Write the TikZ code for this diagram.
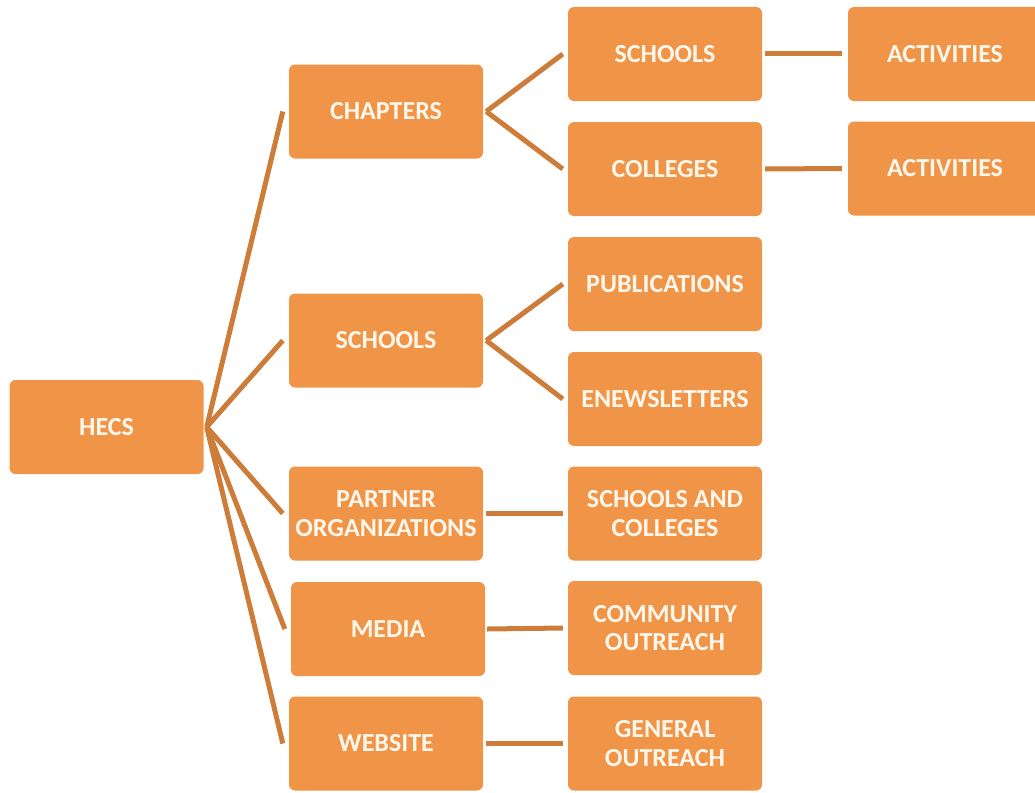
\documentclass[tikz,border=0pt]{standalone}
\usepackage{fontspec}
\setmainfont{Carlito}
\definecolor{boxfill}{RGB}{240,148,72}
\definecolor{linec}{RGB}{205,124,58}
\definecolor{txt}{RGB}{255,247,236}
\begin{document}
\begin{tikzpicture}[x=1pt,y=-1pt,
  box/.style={fill=boxfill, draw=none, rounded corners=6pt, minimum width=194pt,
    minimum height=94pt, inner sep=0pt, text=txt,
    font=\fontsize{26}{28.5}\selectfont\bfseries, align=center},
  link/.style={draw=linec, line width=5pt}]
\useasboundingbox (0,0) rectangle (1035,792);
\clip (0,0) rectangle (1035,792);
% column 1
\node[box] (hecs) at (106.5,427) {HECS};
% column 2
\node[box] (chap) at (386,111.5) {CHAPTERS};
\node[box] (sch) at (386,340.5) {SCHOOLS};
\node[box] (part) at (386,513.5) {PARTNER\\ORGANIZATIONS};
\node[box] (media) at (388,629) {MEDIA};
\node[box] (web) at (386,743.5) {WEBSITE};
% column 3
\node[box] (schools) at (665,54) {SCHOOLS};
\node[box] (coll) at (665,169) {COLLEGES};
\node[box] (pub) at (665,284) {PUBLICATIONS};
\node[box] (enews) at (665,399) {ENEWSLETTERS};
\node[box] (sac) at (665,513.5) {SCHOOLS AND\\COLLEGES};
\node[box] (comm) at (665,628) {COMMUNITY\\OUTREACH};
\node[box] (gen) at (665,743.5) {GENERAL\\OUTREACH};
% column 4
\node[box] (act1) at (945,54) {ACTIVITIES};
\node[box] (act2) at (945,168.5) {ACTIVITIES};
% connectors
\coordinate (h) at ([xshift=3pt]hecs.east);
\draw[link] (h) -- ([xshift=-6pt]chap.west);
\draw[link] (h) -- ([xshift=-6pt]sch.west);
\draw[link] (h) -- ([xshift=-6pt]part.west);
\draw[link] (h) -- ([xshift=-6pt]media.west);
\draw[link] (h) -- ([xshift=-6pt]web.west);
\draw[link] ([xshift=3pt]chap.east) -- ([xshift=-5pt]schools.west);
\draw[link] ([xshift=3pt]chap.east) -- ([xshift=-5pt]coll.west);
\draw[link] ([xshift=3pt]sch.east) -- ([xshift=-5pt]pub.west);
\draw[link] ([xshift=3pt]sch.east) -- ([xshift=-5pt]enews.west);
\draw[link] ([xshift=3pt]part.east) -- ([xshift=-5pt]sac.west);
\draw[link] ([xshift=2pt]media.east) -- ([xshift=-5pt]comm.west);
\draw[link] ([xshift=3pt]web.east) -- ([xshift=-5pt]gen.west);
\draw[link] ([xshift=3pt]schools.east) -- ([xshift=-6pt]act1.west);
\draw[link] ([xshift=3pt]coll.east) -- ([xshift=-6pt]act2.west);
\end{tikzpicture}
\end{document}
